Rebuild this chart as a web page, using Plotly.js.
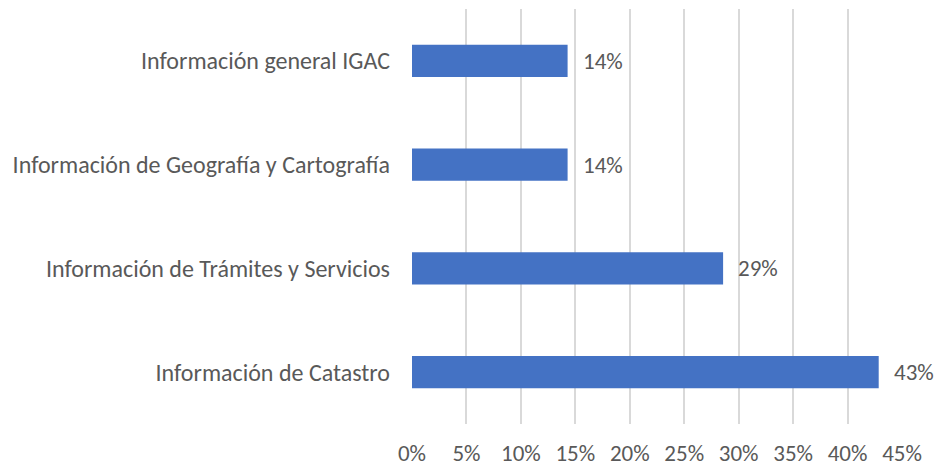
<!DOCTYPE html>
<html>
<head>
<meta charset="utf-8">
<script src="https://cdn.plot.ly/plotly-3.0.1.min.js"></script>
<style>html,body{margin:0;padding:0;background:#fff;}#chart{width:942px;height:468px;}</style>
</head>
<body>
<div id="chart"></div>
<script>
const categories = ["Información de Catastro", "Información de Trámites y Servicios", "Información de Geografía y Cartografía", "Información general IGAC"];
const values = [0.4286, 0.2857, 0.1429, 0.1429];
const valueLabels = ["43%", "29%", "14%", "14%"];
const xTickVals = [0, 0.05, 0.10, 0.15, 0.20, 0.25, 0.30, 0.35, 0.40, 0.45];
const xTickText = ["0%", "5%", "10%", "15%", "20%", "25%", "30%", "35%", "40%", "45%"];

const FONT = "Carlito, Lato, 'Liberation Sans', sans-serif";
const TXT = "#595959";
const FS = 24;

const trace = {
  type: "bar",
  orientation: "h",
  y: categories,
  x: values,
  marker: {color: "#4472C4"},
  hoverinfo: "none"
};

const annotations = categories.map((c, i) => ({
  x: values[i], y: c, xref: "x", yref: "y",
  text: valueLabels[i], showarrow: false,
  xanchor: "left", yanchor: "middle", xshift: 13,
  font: {family: FONT, size: 23, color: TXT}
}));

const layout = {
  width: 942, height: 468,
  margin: {l: 412, r: 40, t: 9, b: 44},
  paper_bgcolor: "#fff", plot_bgcolor: "#fff",
  showlegend: false,
  bargap: 0.69,
  font: {family: FONT, size: FS, color: TXT},
  xaxis: {
    range: [0, 0.45],
    tickvals: xTickVals, ticktext: xTickText,
    showgrid: true, gridcolor: "#D9D9D9", gridwidth: 2,
    zeroline: false, showline: false, ticks: "",
    ticklabelstandoff: 13,
    tickfont: {family: FONT, size: 23, color: TXT},
    fixedrange: true
  },
  yaxis: {
    showgrid: false, zeroline: false, showline: false, ticks: "",
    ticklabelstandoff: 21,
    tickfont: {family: FONT, size: FS, color: TXT},
    fixedrange: true
  },
  annotations: annotations
};

Plotly.newPlot("chart", [trace], layout, {displayModeBar: false, staticPlot: true});
</script>
</body>
</html>
